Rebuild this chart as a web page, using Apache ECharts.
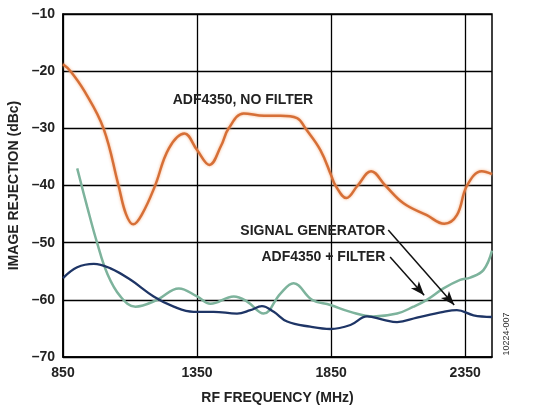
<!DOCTYPE html>
<html>
<head>
<meta charset="utf-8">
<script src="https://cdn.jsdelivr.net/npm/echarts@6/dist/echarts.min.js"></script>
<style>
html,body{margin:0;padding:0;background:#fff;}
#c{width:540px;height:414px;}
</style>
</head>
<body>
<div id="c"></div>
<script>
// ---- data ----
const xTicks = [850, 1350, 1850, 2350];
const yMin = -70, yMax = -10, yStep = 10;

const noFilter = [
  [850,-18.8],[878,-20],[930,-23.5],[1001,-30],[1057,-40],[1085,-45],[1112,-46.8],
  [1145,-45],[1192,-40.2],[1245,-33.5],[1303,-30.9],[1350,-33.8],[1396,-36.4],
  [1440,-33],[1468,-30],[1524,-27.4],[1600,-27.8],[1661,-27.8],[1723,-28.2],
  [1754,-30],[1810,-33.8],[1850,-38.2],[1866,-40],[1907,-42.2],[1949,-40],
  [1999,-37.5],[2052,-40],[2120,-43.1],[2207,-45.2],[2272,-46.7],[2319,-45.2],
  [2357,-40],[2412,-37.5],[2450,-38]
];

const withFilter = [
  [903,-37],[940,-43.7],[977,-50],[1015,-55.4],[1064,-59.4],[1120,-61.2],[1201,-60],
  [1282,-58],[1350,-59.4],[1400,-60.7],[1487,-59.4],[1537,-60.3],[1598,-62.4],
  [1661,-58.9],[1710,-57.1],[1779,-60],[1847,-60.9],[1922,-62.1],[2008,-62.9],
  [2096,-62.4],[2157,-61.2],[2207,-60],[2269,-58],[2331,-56.5],[2369,-56.1],
  [2418,-54.8],[2450,-51.4]
];

const sigGen = [
  [850,-56.2],[903,-54.3],[965,-53.7],[1027,-54.5],[1102,-56.5],[1188,-59.4],
  [1263,-61.2],[1337,-62.1],[1412,-62.1],[1499,-62.4],[1549,-61.8],[1592,-61.1],
  [1636,-62.1],[1686,-63.8],[1772,-64.7],[1847,-65.1],[1922,-64.4],[1984,-62.9],
  [2046,-63.5],[2096,-63.9],[2170,-63.1],[2269,-62.1],[2319,-61.8],[2381,-62.7],
  [2450,-63]
];

// annotation anchors (data coords)
const labelNoFilter = {text:'ADF4350, NO FILTER', at:[1259,-25.0]};
const labelSigGen = {text:'SIGNAL GENERATOR', at:[2052,-47.9]};
const labelFilter = {text:'ADF4350 + FILTER', at:[2052,-52.6]};
const arrowSigGen = [[2063,-47.8],[2309,-60.9]];
const arrowFilter = [[2070,-52.5],[2197,-59.2]];

const FONT = '"Liberation Sans", Arial, sans-serif';
const FS = 14;
const chart = echarts.init(document.getElementById('c'));

const option = {
  animation:false,
  backgroundColor:'#fff',
  grid:{left:63,top:14,right:48,bottom:57,show:true,borderColor:'#000',borderWidth:1.5,
        containLabel:false,outerBoundsMode:'none'},
  xAxis:{
    type:'value', min:850, max:2450,
    name:'RF FREQUENCY (MHz)', nameLocation:'middle', nameGap:34,
    nameTextStyle:{fontFamily:FONT,fontWeight:'bold',fontSize:FS,color:'#222'},
    axisLine:{show:true,lineStyle:{color:'#000',width:1.5}},
    axisTick:{show:false,customValues:xTicks},
    axisLabel:{customValues:xTicks,margin:9,fontFamily:FONT,fontWeight:'bold',fontSize:FS,color:'#222',
      formatter:v=>String(v)},
    splitLine:{show:true,lineStyle:{color:'#000',width:1.3}}
  },
  yAxis:{
    type:'value', min:yMin, max:yMax, interval:yStep,
    name:'IMAGE REJECTION (dBc)', nameLocation:'middle', nameGap:42,
    nameTextStyle:{fontFamily:FONT,fontWeight:'bold',fontSize:FS,color:'#222'},
    axisLine:{show:true,lineStyle:{color:'#000',width:1.5}},
    axisTick:{show:false},
    axisLabel:{margin:8,fontFamily:FONT,fontWeight:'bold',fontSize:FS,color:'#222',
      formatter:v=>String(v).replace('-','\u2013')},
    splitLine:{show:true,lineStyle:{color:'#000',width:1.3}}
  },
  series:[
    {type:'line',name:'ADF4350, NO FILTER',data:noFilter,smooth:0.4,symbol:'none',
     lineStyle:{color:'#D66F37',width:2.5,shadowColor:'rgba(245,170,120,0.9)',shadowBlur:3},z:3},
    {type:'line',name:'ADF4350 + FILTER',data:withFilter,smooth:0.4,symbol:'none',
     lineStyle:{color:'#7DB39C',width:2.5},z:4},
    {type:'line',name:'SIGNAL GENERATOR',data:sigGen,smooth:0.4,symbol:'none',
     lineStyle:{color:'#1E3566',width:2.3},z:5,
     markLine:{silent:true,symbol:['none','arrow'],symbolSize:[8,14],
       lineStyle:{color:'#111',width:1.5,type:'solid'},label:{show:false},
       data:[
         [{coord:arrowSigGen[0]},{coord:arrowSigGen[1]}],
         [{coord:arrowFilter[0]},{coord:arrowFilter[1]}]
       ]}
    }
  ]
};
chart.setOption(option);

function txt(lbl, align){
  const p = chart.convertToPixel({gridIndex:0}, lbl.at);
  return {type:'text',x:p[0],y:p[1],style:{text:lbl.text,fill:'#222',font:'bold '+FS+'px '+FONT,align:align,verticalAlign:'middle'}};
}
chart.setOption({graphic:[
  txt(labelNoFilter,'left'),
  txt(labelSigGen,'right'),
  txt(labelFilter,'right'),
  {type:'text',x:507,y:334,rotation:Math.PI/2,style:{text:'10224-007',fill:'#333',font:'9px '+FONT,align:'center',verticalAlign:'middle'}}
]});
</script>
</body>
</html>
